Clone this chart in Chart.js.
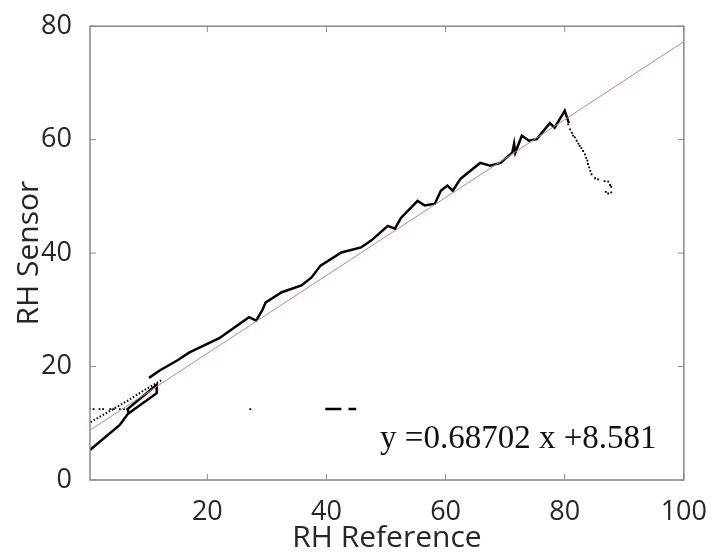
<!DOCTYPE html>
<html>
<head>
<meta charset="utf-8">
<script src="https://cdn.jsdelivr.net/npm/chart.js@4.4.1/dist/chart.umd.min.js"></script>
<style>
  html, body { margin: 0; padding: 0; background: #fff; }
  #wrap { width: 715px; height: 556px; position: relative; }
</style>
</head>
<body>
<div id="wrap"><canvas id="chartRH"></canvas></div>
<script>
// axis ticks
const xTicks = [20, 40, 60, 80, 100];
const yTicks = [0, 20, 40, 60, 80];

// main sensor curve (upper, solid)
const mainX = [10.2, 12, 15, 17, 22, 27, 28.2, 29.2, 29.8, 32.5, 35.8, 37.5, 39, 42.5, 45.8, 47.5, 50.3, 51.5, 52.5, 53.7, 55.3, 56.5, 58.2, 59.2, 60.3, 61.2, 62.5, 65.8, 67.5, 69.2, 71.2, 71.5, 71.7, 72.8, 74, 75.3, 77.5, 78.3, 79.5, 80, 80.7];
const mainY = [18.0, 19.3, 21.1, 22.5, 25.0, 28.7, 28.1, 29.9, 31.3, 33.1, 34.3, 35.7, 37.8, 40.1, 41.0, 42.2, 44.8, 44.3, 46.2, 47.5, 49.2, 48.4, 48.7, 51.0, 51.9, 51.0, 53.1, 55.9, 55.4, 55.9, 57.7, 59.3, 57.7, 60.7, 59.8, 60.1, 62.9, 62.1, 64.2, 65.1, 62.9];

// lower start + small loop
const loopX = [0.3, 5.3, 6.7, 11.5, 11.5, 6.6, 6.8];
const loopY = [5.3, 9.7, 11.7, 15.3, 16.8, 12.5, 11.8];

// dotted rising start
const riseX = [0.4, 3.5, 6.5, 9.5, 12.5];
const riseY = [10.2, 12.1, 13.9, 15.9, 17.7];

// sparse dots at ~12.5
const flatX = [0.3, 0.9, 1.9, 2.5, 3.7, 4.3, 5.3, 6.0, 27.2];
const flatY = [12.5, 12.5, 12.5, 12.5, 12.5, 12.5, 12.5, 12.5, 12.5];
const dashAX = [39.8, 42.5], dashAY = [12.5, 12.5];
const dashBX = [43.7, 45.0], dashBY = [12.5, 12.5];

// falling tail after peak
const tailX = [80.6, 80.9, 81.2, 81.4, 81.7, 82.0, 82.3, 82.5, 82.8, 83.1, 83.4, 83.6, 83.8, 83.9, 84.1, 84.3, 84.5, 85.1, 85.6, 86.7, 87.3, 87.6, 87.8, 87.8, 87.3, 86.9];
const tailY = [62.7, 61.8, 61.2, 60.7, 60.4, 59.8, 59.3, 58.9, 58.5, 58.0, 57.4, 56.8, 56.3, 55.7, 55.1, 54.5, 53.9, 53.2, 53.0, 52.7, 52.6, 52.0, 51.7, 50.7, 50.5, 50.8];

// fit line
const fitX = [0, 100];
const fitY = [8.581, 77.283];
const fitLabel = 'y =0.68702 x +8.581';

const pts = (xs, ys) => xs.map((x, i) => ({ x: x, y: ys[i] }));

const boxPlugin = {
    id: 'boxPlugin',
    afterDraw(chart) {
        const { ctx, chartArea: a, scales } = chart;
        ctx.save();
        ctx.strokeStyle = '#8a8a8a';
        ctx.lineWidth = 1.5;
        ctx.strokeRect(a.left, a.top, a.right - a.left, a.bottom - a.top);
        ctx.lineWidth = 1;
        ctx.beginPath();
        xTicks.forEach(v => {
            const px = scales.x.getPixelForValue(v);
            ctx.moveTo(px, a.bottom); ctx.lineTo(px, a.bottom - 6);
            ctx.moveTo(px, a.top); ctx.lineTo(px, a.top + 6);
        });
        yTicks.forEach(v => {
            const py = scales.y.getPixelForValue(v);
            ctx.moveTo(a.left, py); ctx.lineTo(a.left + 6, py);
            ctx.moveTo(a.right, py); ctx.lineTo(a.right - 6, py);
        });
        ctx.stroke();
        // equation
        ctx.fillStyle = '#111';
        ctx.font = '33px "Liberation Serif", "Times New Roman", serif';
        ctx.textBaseline = 'alphabetic';
        ctx.fillText(fitLabel, scales.x.getPixelForValue(49), scales.y.getPixelForValue(5.6));
        ctx.restore();
    }
};

const lineDs = (data, extra) => Object.assign({
    data: data, showLine: true, pointRadius: 0, borderColor: '#000', borderWidth: 2.5, fill: false
}, extra);

new Chart(document.getElementById('chartRH'), {
    type: 'scatter',
    data: {
        datasets: [
            lineDs(pts(fitX, fitY), { borderColor: '#cc8080', borderWidth: 1 }),
            lineDs(pts(loopX, loopY), {}),
            lineDs(pts(riseX, riseY), { borderWidth: 2, borderDash: [1.5, 2] }),
            lineDs(pts(mainX, mainY), {}),
            lineDs(pts(dashAX, dashAY), {}),
            lineDs(pts(dashBX, dashBY), {}),
            { data: pts(flatX, flatY), pointRadius: 1.3, pointStyle: 'rect', backgroundColor: '#000', borderWidth: 0 },
            { data: pts(tailX, tailY), pointRadius: 1.3, pointStyle: 'rect', backgroundColor: '#000', borderWidth: 0 }
        ]
    },
    options: {
        responsive: true, maintainAspectRatio: false, animation: false,
        layout: { padding: { left: 2, top: 25, right: 28, bottom: 0 } },
        plugins: { legend: { display: false }, tooltip: { enabled: false } },
        scales: {
            x: {
                type: 'linear', min: 0.3, max: 100,
                afterBuildTicks: s => { s.ticks = xTicks.map(v => ({ value: v })); },
                afterFit: s => { s.height = 76; },
                grid: { display: false }, border: { display: false },
                ticks: { color: '#262626', padding: 8, maxRotation: 0, font: { family: '"Open Sans"', size: 27 } },
                title: { display: true, text: 'RH Reference', color: '#262626', padding: { top: 0, bottom: 0 }, font: { family: '"Open Sans"', size: 30 } }
            },
            y: {
                type: 'linear', min: 0, max: 80,
                afterBuildTicks: s => { s.ticks = yTicks.map(v => ({ value: v })); },
                afterFit: s => { s.width = 88; },
                grid: { display: false }, border: { display: false },
                ticks: { color: '#262626', padding: 10, font: { family: '"Open Sans"', size: 27 } },
                title: { display: true, text: 'RH Sensor', color: '#262626', padding: { top: 9, bottom: 0 }, font: { family: '"Open Sans"', size: 30 } }
            }
        }
    },
    plugins: [boxPlugin]
});
</script>
</body>
</html>
